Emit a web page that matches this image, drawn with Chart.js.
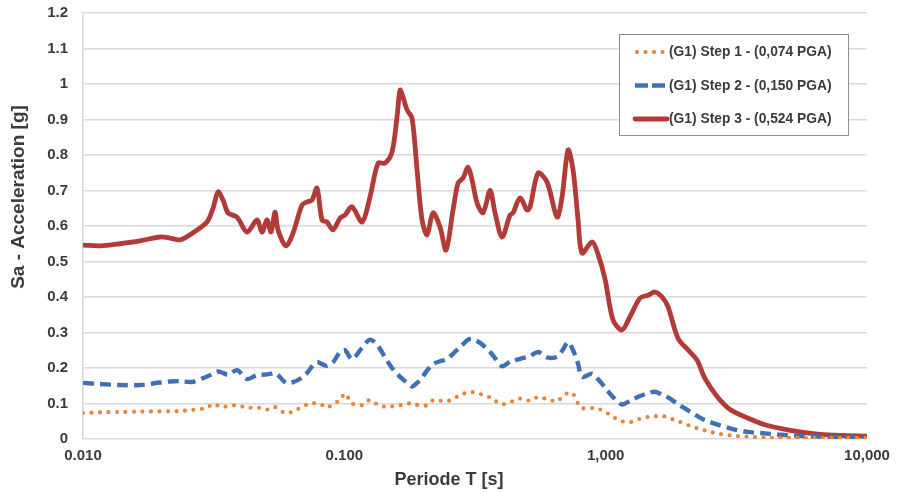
<!DOCTYPE html>
<html><head><meta charset="utf-8">
<script src="https://cdn.jsdelivr.net/npm/chart.js@4.4.1/dist/chart.umd.min.js"></script>
<style>html,body{margin:0;padding:0;background:#fff}#wrap{width:898px;height:493px;position:relative}</style>
</head><body><div id="wrap"><canvas id="c" width="898" height="493"></canvas></div>
<script>
// Period T [s]
const periods = [0.0100,0.01162,0.01385,0.01652,0.01971,0.02153,0.02351,0.02636,0.02982,0.03144,
0.03286,0.03434,0.03589,0.03885,0.04243,0.04633,0.04842,0.05060,0.05242,0.05430,
0.05575,0.05983,0.06363,0.06888,0.07199,0.07523,0.07862,0.08216,0.08586,0.09052,
0.09628,0.1006,0.1070,0.1169,0.1254,0.1346,0.1431,0.1522,0.1591,0.1634,
0.1677,0.1738,0.1816,0.1898,0.1983,0.2073,0.2185,0.2324,0.2450,0.2606,
0.2724,0.2846,0.2974,0.3081,0.3220,0.3395,0.3611,0.3773,0.4013,0.4307,
0.4422,0.4703,0.5003,0.5137,0.5512,0.5967,0.6516,0.6810,0.7180,0.7503,
0.7841,0.8122,0.8871,0.9352,0.9947,1.067,1.155,1.240,1.354,1.453,
1.545,1.644,1.733,1.893,2.104,2.238,2.401,2.669,2.993,3.476,
4.074,4.650,5.546,6.615,7.890,10.0];

// (G1) Step 1 - (0,074 PGA)
const step1 = [0.073,0.075,0.076,0.077,0.078,0.078,0.079,0.082,0.088,0.099,
0.094,0.090,0.093,0.095,0.088,0.089,0.086,0.083,0.086,0.090,
0.085,0.072,0.078,0.090,0.097,0.101,0.100,0.096,0.088,0.098,
0.110,0.128,0.100,0.095,0.110,0.096,0.091,0.092,0.094,0.095,
0.096,0.099,0.101,0.096,0.094,0.095,0.109,0.108,0.106,0.112,
0.121,0.127,0.132,0.132,0.129,0.124,0.117,0.108,0.098,0.103,
0.107,0.114,0.110,0.107,0.118,0.112,0.106,0.118,0.130,0.127,
0.100,0.087,0.087,0.085,0.077,0.062,0.050,0.047,0.057,0.062,
0.064,0.065,0.060,0.050,0.037,0.030,0.024,0.016,0.010,0.007,
0.004,0.003,0.003,0.003,0.003,0.003];

// (G1) Step 2 - (0,150 PGA)
const step2 = [0.158,0.155,0.152,0.152,0.159,0.162,0.163,0.161,0.176,0.184,
0.190,0.186,0.181,0.194,0.169,0.180,0.181,0.182,0.184,0.186,
0.180,0.158,0.160,0.173,0.186,0.204,0.217,0.211,0.206,0.216,
0.245,0.250,0.225,0.257,0.280,0.262,0.230,0.200,0.184,0.175,
0.168,0.159,0.148,0.158,0.173,0.193,0.211,0.219,0.224,0.240,
0.254,0.267,0.280,0.282,0.276,0.264,0.245,0.228,0.205,0.218,
0.220,0.226,0.231,0.234,0.245,0.230,0.231,0.248,0.273,0.250,
0.212,0.175,0.184,0.168,0.145,0.118,0.097,0.108,0.121,0.129,
0.133,0.125,0.117,0.098,0.077,0.065,0.053,0.041,0.030,0.020,
0.016,0.012,0.009,0.007,0.006,0.005];

// (G1) Step 3 - (0,524 PGA)
const step3 = [0.546,0.544,0.550,0.558,0.569,0.566,0.561,0.581,0.611,0.650,
0.696,0.673,0.637,0.625,0.583,0.617,0.583,0.617,0.583,0.639,
0.589,0.544,0.580,0.659,0.668,0.673,0.707,0.617,0.611,0.589,
0.622,0.631,0.654,0.611,0.682,0.777,0.777,0.808,0.907,0.983,
0.963,0.927,0.904,0.758,0.617,0.575,0.637,0.597,0.532,0.645,
0.721,0.735,0.766,0.730,0.665,0.637,0.700,0.637,0.569,0.631,
0.637,0.679,0.645,0.654,0.749,0.724,0.625,0.682,0.814,0.758,
0.617,0.524,0.555,0.520,0.450,0.335,0.307,0.345,0.397,0.405,
0.414,0.400,0.372,0.283,0.245,0.222,0.170,0.120,0.083,0.060,
0.040,0.030,0.020,0.013,0.010,0.008];

const seriesLabels = ['(G1) Step 1 - (0,074 PGA)','(G1) Step 2 - (0,150 PGA)','(G1) Step 3 - (0,524 PGA)'];
const xTickValues = [0.01, 0.1, 1, 10];
const xTickLabels = ['0.010', '0.100', '1,000', '10,000'];
const xTitle = 'Periode T [s]';
const yTitle = 'Sa - Acceleration [g]';

const FONT = "'Liberation Sans', Arial, sans-serif";
const TXT = '#3b3b3b';
const GRID = '#d9d9d9';
const toXY = vals => periods.map((p, i) => ({x: p, y: vals[i]}));

const styles = [
  {color: '#E8843C', width: 4.2, dash: [0, 8.5], cap: 'round'},
  {color: '#3E70B5', width: 4.4, dash: [11, 6], cap: 'butt'},
  {color: '#B23A37', width: 4.8, dash: [], cap: 'round'}
];
const seriesValues = [step1, step2, step3];

const extras = {
  id: 'extras',
  afterDraw(chart) {
    const ctx = chart.ctx;
    ctx.save();
    ctx.fillStyle = TXT;
    ctx.font = "bold 18px " + FONT;
    ctx.textAlign = 'center';
    ctx.textBaseline = 'middle';
    ctx.fillText(xTitle, 449, 480);
    ctx.save();
    ctx.font = "bold 19px " + FONT;
    ctx.translate(19, 197);
    ctx.rotate(-Math.PI / 2);
    ctx.fillText(yTitle, 0, 0);
    ctx.restore();
    const bx = 619.5, by = 34.5, bw = 229, bh = 101;
    ctx.fillStyle = '#ffffff';
    ctx.fillRect(bx, by, bw, bh);
    ctx.strokeStyle = '#8c8c8c';
    ctx.lineWidth = 1;
    ctx.strokeRect(bx, by, bw, bh);
    const rows = [52, 85.5, 119];
    chart.data.datasets.forEach((ds, i) => {
      const s = styles[i];
      const y = rows[i];
      ctx.beginPath();
      ctx.strokeStyle = s.color;
      ctx.lineWidth = s.width;
      ctx.lineCap = s.cap;
      ctx.setLineDash(i === 1 ? [13, 4] : s.dash);
      ctx.moveTo(i === 0 ? 637 : 635, y);
      ctx.lineTo(i === 0 ? 664 : 667, y);
      ctx.stroke();
      ctx.setLineDash([]);
      ctx.fillStyle = TXT;
      ctx.font = "bold 13.8px " + FONT;
      ctx.textAlign = 'left';
      ctx.textBaseline = 'middle';
      ctx.fillText(ds.label, 669, y + 0.5);
    });
    ctx.restore();
  }
};

new Chart(document.getElementById('c'), {
  type: 'line',
  data: {
    datasets: seriesValues.map((vals, i) => ({
      label: seriesLabels[i],
      data: toXY(vals),
      borderColor: styles[i].color,
      backgroundColor: styles[i].color,
      borderWidth: styles[i].width,
      borderDash: styles[i].dash,
      borderCapStyle: styles[i].cap,
      borderJoinStyle: 'round',
      pointRadius: 0,
      tension: 0.3,
      fill: false
    }))
  },
  options: {
    responsive: false,
    animation: false,
    devicePixelRatio: 1,
    layout: {padding: {left: 0, top: 13, right: 31, bottom: 0}},
    plugins: {legend: {display: false}, tooltip: {enabled: false}, title: {display: false}},
    scales: {
      x: {
        type: 'logarithmic',
        min: 0.01, max: 10,
        afterBuildTicks: s => { s.ticks = xTickValues.map(v => ({value: v})); },
        afterFit: s => { s.height = 54; s.paddingLeft = 0; s.paddingRight = 0; },
        grid: {display: false, drawTicks: false},
        border: {display: false},
        ticks: {
          autoSkip: false, maxRotation: 0, padding: 8, color: TXT,
          font: {family: FONT, size: 15, weight: 'bold'},
          callback: (v, i) => xTickLabels[i]
        }
      },
      y: {
        min: 0, max: 1.2,
        afterFit: s => { s.width = 83; s.paddingTop = 0; s.paddingBottom = 0; },
        grid: {color: GRID, lineWidth: 1.6, drawTicks: false},
        border: {display: true, color: GRID, width: 1.6},
        ticks: {
          stepSize: 0.1, padding: 15, color: TXT,
          font: {family: FONT, size: 15, weight: 'bold'},
          callback: v => String(Number(v.toFixed(1)))
        }
      }
    }
  },
  plugins: [extras]
});
</script></body></html>
